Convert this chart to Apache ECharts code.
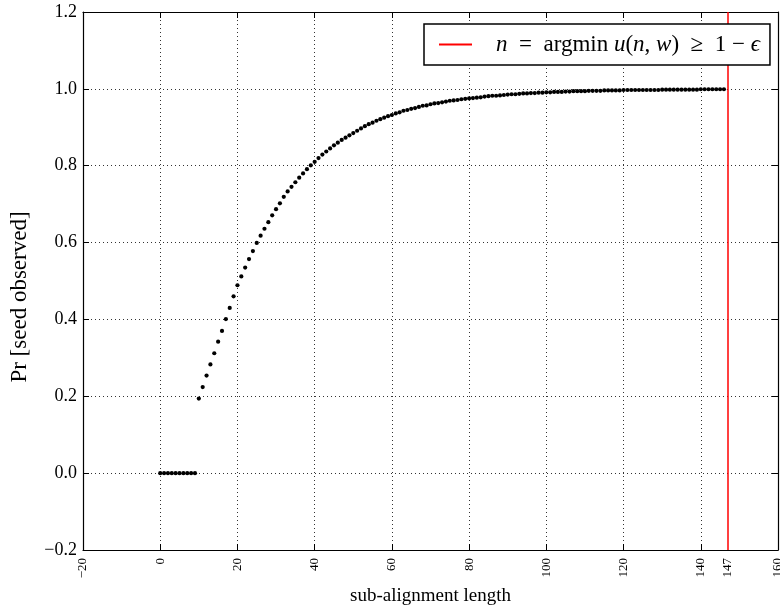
<!DOCTYPE html>
<html>
<head>
<meta charset="utf-8">
<script src="https://cdn.jsdelivr.net/npm/echarts@6/dist/echarts.min.js"></script>
<style>html,body{margin:0;padding:0;background:#fff}#c{width:780px;height:609px}</style>
</head>
<body>
<div id="c"></div>
<script>
// Pr[seed observed] for sub-alignment lengths 0,1,2,...,146
const probabilities = [
  0,0,0,0,0,0,0,0,0,0,
  0.194,0.224,0.254,0.283,0.312,0.342,0.370,0.401,0.430,0.460,
  0.489,0.512,0.535,0.557,0.578,0.599,0.618,0.636,0.653,0.671,
  0.687,0.702,0.719,0.733,0.745,0.757,0.769,0.780,0.791,0.801,
  0.810,0.820,0.829,0.837,0.845,0.853,0.860,0.867,0.873,0.879,
  0.885,0.891,0.897,0.903,0.908,0.912,0.917,0.921,0.925,0.929,
  0.932,0.936,0.939,0.943,0.945,0.948,0.950,0.953,0.956,0.957,
  0.960,0.962,0.963,0.965,0.967,0.969,0.970,0.971,0.973,0.974,
  0.975,0.976,0.977,0.978,0.980,0.981,0.982,0.982,0.983,0.984,
  0.985,0.986,0.986,0.987,0.988,0.988,0.989,0.989,0.990,0.990,
  0.991,0.991,0.992,0.992,0.992,0.993,0.993,0.994,0.994,0.994,
  0.994,0.995,0.995,0.995,0.995,0.996,0.996,0.996,0.996,0.996,
  0.997,0.997,0.997,0.997,0.997,0.997,0.997,0.997,0.997,0.997,
  0.998,0.998,0.998,0.998,0.998,0.998,0.998,0.998,0.998,0.998,
  0.999,0.999,0.999,0.999,0.999,0.999,0.999
];
const thresholdLength = 147;
const xTickValues = [-20, 0, 20, 40, 60, 80, 100, 120, 140, 147, 160];
const yTickValues = [-0.2, 0.0, 0.2, 0.4, 0.6, 0.8, 1.0, 1.2];
const legendName = 'threshold';

const FONT = '"Liberation Serif", "DejaVu Serif", serif';
const points = probabilities.map((p, i) => [i, p]);
const fmtNum = (v, d) => (v < 0 ? '\u2212' : '') + Math.abs(v).toFixed(d);

const gridLine = { show: true, lineStyle: { color: '#333', width: 1, type: [1, 3] } };
const axisLine = { show: true, onZero: false, lineStyle: { color: '#000', width: 1.2 } };
const tick = { show: true, inside: true, length: 6, lineStyle: { color: '#000', width: 1 } };

const chart = echarts.init(document.getElementById('c'), null, { renderer: 'canvas' });
chart.setOption({
  animation: false,
  backgroundColor: '#fff',
  grid: { left: 83, right: 2, top: 12, bottom: 59, containLabel: false, outerBoundsMode: 'none' },
  xAxis: [{
    type: 'value', min: -20, max: 160, interval: 20,
    axisLine, axisTick: tick, splitLine: gridLine,
    axisLabel: {
      rotate: 90, margin: 8, fontFamily: FONT, fontSize: 13, color: '#000',
      customValues: xTickValues,
      formatter: v => fmtNum(v, 0)
    },
    name: 'sub-alignment length', nameLocation: 'middle', nameGap: 37,
    nameTextStyle: { fontFamily: FONT, fontSize: 19, color: '#000', verticalAlign: 'top' }
  }, {
    type: 'value', position: 'top', min: -20, max: 160, interval: 20,
    axisLine, axisTick: tick, splitLine: { show: false }, axisLabel: { show: false }
  }],
  yAxis: [{
    type: 'value', min: -0.2, max: 1.2, interval: 0.2,
    axisLine, axisTick: tick, splitLine: gridLine,
    axisLabel: {
      margin: 6, fontFamily: FONT, fontSize: 18, color: '#000',
      customValues: yTickValues,
      formatter: v => fmtNum(v, 1)
    }
  }, {
    type: 'value', position: 'right', min: -0.2, max: 1.2, interval: 0.2,
    axisLine, axisTick: tick, splitLine: { show: false }, axisLabel: { show: false }
  }],
  legend: {
    left: 424, top: 24, z: 20,
    data: [{ name: legendName, icon: 'rect' }],
    itemWidth: 33, itemHeight: 2,
    padding: [9, 10, 9, 15],
    borderColor: '#000', borderWidth: 1.5, backgroundColor: '#fff',
    selectedMode: false,
    formatter: () => '{i|n}  =  argmin {i|u}({i|n}, {i|w})  \u2265  1 \u2212 {i|\u03f5}',
    textStyle: {
      fontFamily: FONT, fontSize: 23, color: '#000', padding: [0, 0, 0, 19],
      rich: { i: { fontFamily: FONT, fontSize: 23, fontStyle: 'italic', color: '#000' } }
    }
  },
  graphic: [{
    type: 'text', x: 20, y: 297, rotation: Math.PI / 2,
    style: { text: 'Pr [seed observed]', font: '23px "Liberation Serif", serif', fill: '#000',
             align: 'center', verticalAlign: 'middle' }
  }],
  series: [{
    type: 'scatter', name: 'probability', data: points,
    symbol: 'circle', symbolSize: 4.2,
    itemStyle: { color: '#000', opacity: 1 }, z: 3
  }, {
    type: 'line', name: legendName, data: [],
    itemStyle: { color: '#ff0000' }, lineStyle: { color: '#ff0000' },
    markLine: {
      silent: true, symbol: ['none', 'none'], label: { show: false },
      lineStyle: { color: '#ff0000', width: 1.5, type: 'solid' },
      data: [{ xAxis: thresholdLength }]
    }
  }]
});
</script>
</body>
</html>
